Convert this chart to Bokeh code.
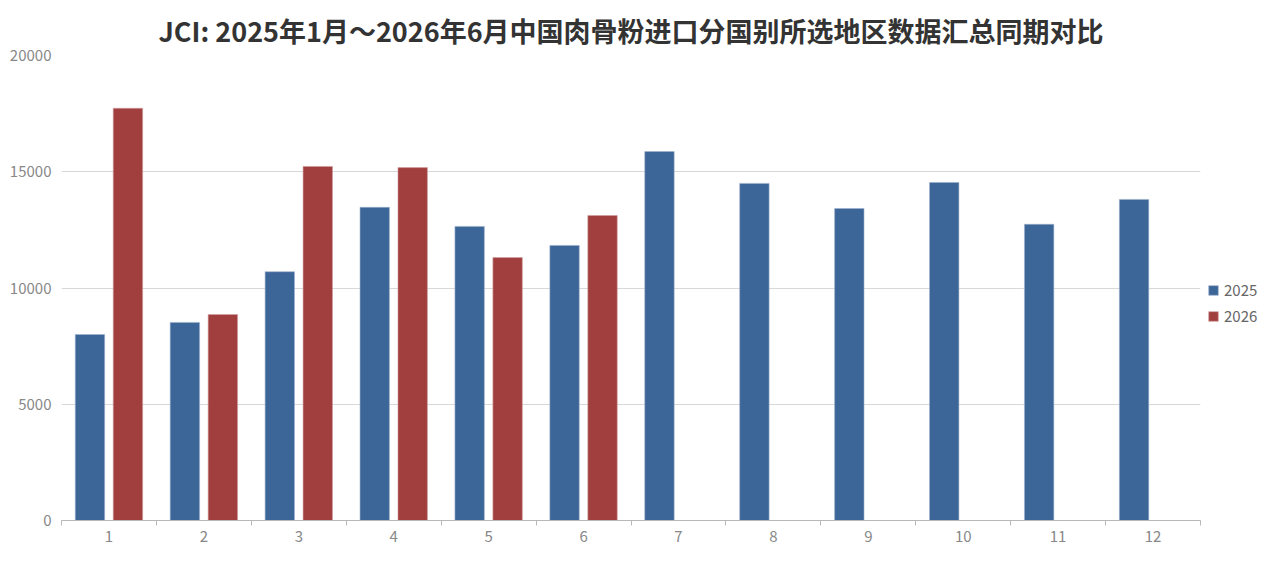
from bokeh.plotting import figure
from bokeh.models import ColumnDataSource, Range1d, Legend, LegendItem, NumeralTickFormatter, FixedTicker
from bokeh.transform import dodge
from bokeh.embed import file_html
from bokeh.resources import INLINE

months = ["1", "2", "3", "4", "5", "6", "7", "8", "9", "10", "11", "12"]
v2025 = [8000, 8520, 10700, 13470, 12650, 11830, 15870, 14500, 13420, 14540, 12740, 13810]
v2026 = [17730, 8860, 15230, 15180, 11310, 13120, None, None, None, None, None, None]
title_text = "JCI: 2025年1月～2026年6月中国肉骨粉进口分国别所选地区数据汇总同期对比"

# slot centre of each month on a numeric axis (one unit per month)
pos = [i + 0.5 for i in range(len(months))]
src = ColumnDataSource(dict(x=pos, a=v2025, b=[v if v is not None else float("nan") for v in v2026]))

FONT = "Noto Sans CJK SC"
p = figure(x_range=Range1d(0, len(months)), y_range=(0, 20000),
           frame_width=1139, frame_height=465, output_backend="svg", toolbar_location=None,
           min_border_left=61, min_border_right=60, min_border_top=55, min_border_bottom=33)
p.outline_line_color = None

r1 = p.vbar(x=dodge("x", -0.2), top="a", width=0.31, source=src,
            fill_color="#3d6698", line_color="#9fb2cc", line_width=0.6)
r2 = p.vbar(x=dodge("x", 0.2), top="b", width=0.31, source=src,
            fill_color="#a13f3e", line_color="#d0a09f", line_width=0.6)

p.title.text = title_text
p.title.align = "center"
p.title.text_font = FONT
p.title.text_font_size = "27px"
p.title.text_font_style = "bold"
p.title.text_color = "#333333"
p.title.offset = 8
p.title.standoff = 12

p.yaxis.ticker = FixedTicker(ticks=[0, 5000, 10000, 15000, 20000])
p.yaxis.formatter = NumeralTickFormatter(format="0")
p.yaxis.axis_line_color = None
p.yaxis.major_tick_line_color = None
p.yaxis.minor_tick_line_color = None
p.yaxis.major_label_text_font = FONT
p.yaxis.major_label_text_font_size = "15px"
p.yaxis.major_label_text_color = "#888888"
p.yaxis.major_label_standoff = 4

p.xaxis.ticker = FixedTicker(ticks=pos, minor_ticks=list(range(len(months) + 1)))
p.xaxis.major_label_overrides = {x: m for x, m in zip(pos, months)}
p.xaxis.axis_line_color = "#b8b8b8"
p.xaxis.major_tick_line_color = None
p.xaxis.minor_tick_line_color = "#b8b8b8"
p.xaxis.minor_tick_in = 0
p.xaxis.minor_tick_out = 5
p.xaxis.major_label_text_font = FONT
p.xaxis.major_label_text_font_size = "15px"
p.xaxis.major_label_text_color = "#888888"
p.xaxis.major_label_standoff = 4
p.xgrid.grid_line_color = None
p.ygrid.grid_line_color = "#d8d8d8"
p.ygrid.grid_line_width = 1.2

legend = Legend(items=[LegendItem(label="2025", renderers=[r1]), LegendItem(label="2026", renderers=[r2])],
                location=(7, 194), margin=4, border_line_color=None, background_fill_alpha=0,
                label_text_font=FONT, label_text_font_size="15px", label_text_color="#666666",
                glyph_width=12, glyph_height=12, spacing=5, label_standoff=5, padding=4)
p.add_layout(legend, "right")

open("out.html", "w").write(file_html(p, INLINE))
